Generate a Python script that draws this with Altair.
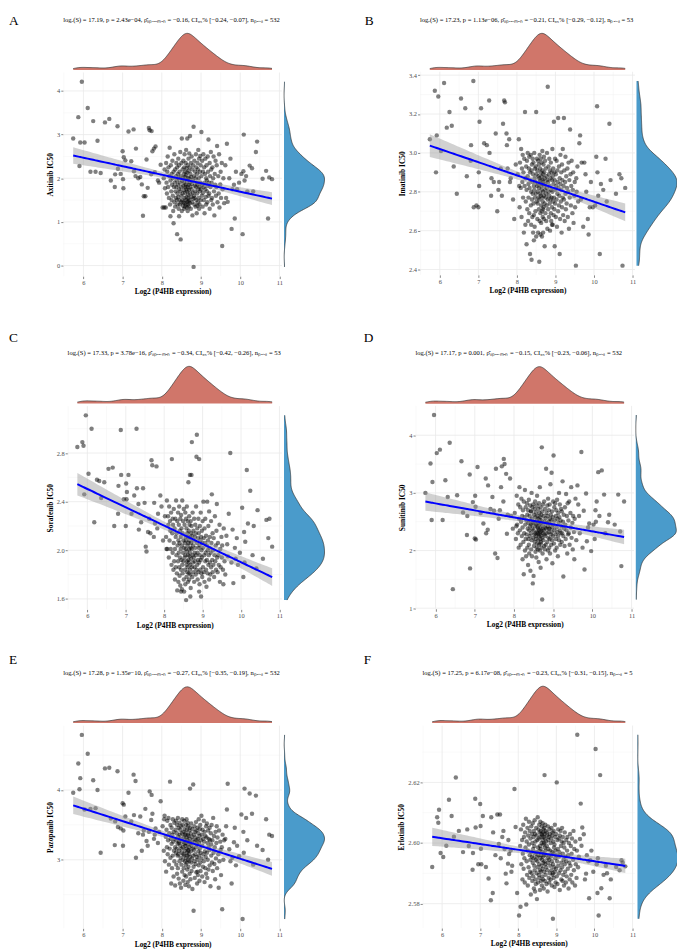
import altair as alt
import pandas as pd

# ---------------- data (shared P4HB expression, per-drug IC50) ----------------
x_left = [5.74, 5.87, 5.92, 5.96, 6.03, 6.11, 6.25, 6.31, 6.36, 6.44,
          6.55, 6.66, 6.80, 6.81, 6.87, 6.88, 7.00, 7.01, 7.02, 7.03,
          7.07, 7.15, 7.22, 7.28, 7.29, 7.33, 7.34, 7.45, 7.49, 7.52,
          7.54, 7.58, 7.61, 7.67, 7.69, 7.73, 7.74, 7.76, 7.80, 7.82,
          7.84, 7.90, 7.97, 7.93, 7.64, 7.40, 6.95, 6.70, 6.18, 5.90]
x_dense = [8.02, 8.05, 8.07, 8.08, 8.10, 8.11, 8.12, 8.13, 8.14, 8.15,
           8.16, 8.17, 8.18, 8.19, 8.20, 8.21, 8.22, 8.22, 8.23, 8.24,
           8.25, 8.25, 8.26, 8.27, 8.28, 8.28, 8.29, 8.30, 8.30, 8.31,
           8.32, 8.32, 8.33, 8.34, 8.34, 8.35, 8.36, 8.36, 8.37, 8.37,
           8.38, 8.38, 8.39, 8.39, 8.40, 8.40, 8.41, 8.41, 8.42, 8.42,
           8.43, 8.43, 8.44, 8.44, 8.45, 8.45, 8.46, 8.46, 8.47, 8.47,
           8.48, 8.48, 8.49, 8.49, 8.50, 8.50, 8.51, 8.51, 8.52, 8.52,
           8.53, 8.53, 8.54, 8.54, 8.55, 8.55, 8.55, 8.56, 8.56, 8.57,
           8.57, 8.57, 8.58, 8.58, 8.58, 8.59, 8.59, 8.59, 8.60, 8.60,
           8.61, 8.61, 8.61, 8.62, 8.62, 8.62, 8.63, 8.63, 8.63, 8.64,
           8.64, 8.64, 8.65, 8.65, 8.65, 8.66, 8.66, 8.66, 8.67, 8.67,
           8.67, 8.68, 8.68, 8.68, 8.69, 8.69, 8.69, 8.70, 8.70, 8.70,
           8.71, 8.71, 8.72, 8.72, 8.72, 8.73, 8.73, 8.74, 8.74, 8.75,
           8.75, 8.76, 8.76, 8.77, 8.77, 8.78, 8.78, 8.79, 8.79, 8.80,
           8.80, 8.81, 8.81, 8.82, 8.82, 8.83, 8.83, 8.84, 8.84, 8.85,
           8.85, 8.86, 8.86, 8.87, 8.87, 8.88, 8.88, 8.89, 8.89, 8.90,
           8.90, 8.91, 8.91, 8.92, 8.92, 8.93, 8.93, 8.94, 8.94, 8.95,
           8.95, 8.96, 8.96, 8.97, 8.97, 8.98, 8.98, 8.99, 8.99, 9.00,
           9.01, 9.01, 9.02, 9.03, 9.03, 9.04, 9.05, 9.05, 9.06, 9.07,
           9.07, 9.08, 9.09, 9.09, 9.10, 9.11, 9.11, 9.12, 9.13, 9.13,
           9.14, 9.15, 9.15, 9.16, 9.17, 9.17, 9.18, 9.19, 9.19, 9.20,
           9.21, 9.22, 9.22, 9.23, 9.24, 9.25, 9.26, 9.26, 9.27, 9.28,
           9.29, 9.30, 9.31, 9.32, 9.33, 9.34, 9.35, 9.36, 9.37, 9.38,
           9.39, 9.40, 9.41, 9.42, 9.44, 9.45, 9.46, 9.47, 9.49, 9.50,
           9.51, 9.53, 9.54, 9.55, 9.57, 9.59, 8.06, 8.44, 8.68, 8.91]
x_right = [9.62, 9.66, 9.68, 9.72, 9.78, 9.80, 9.84, 9.86, 9.89, 9.92,
           9.97, 10.03, 10.06, 10.08, 10.09, 10.11, 10.15, 10.18, 10.24, 10.30,
           10.33, 10.40, 10.43, 10.57, 10.66, 10.71, 10.74, 10.81, 9.64, 9.75]
X = x_left + x_dense + x_right

axitinib = [2.91, 3.40, 2.82, 4.21, 2.82, 3.61, 3.31, 2.15, 2.86, 2.12,
            3.28, 3.36, 1.80, 2.09, 3.19, 2.22, 2.62, 1.98, 1.77, 2.48,
            2.41, 3.07, 2.39, 3.12, 2.16, 2.05, 2.68, 2.03, 1.86, 1.14,
            1.59, 1.59, 2.43, 3.15, 3.10, 2.09, 3.08, 2.62, 2.68, 2.14,
            2.73, 1.95, 2.31, 1.90, 1.78, 2.00, 2.10, 1.95, 2.15, 2.28,
            1.33, 2.00, 2.20, 1.77, 1.33, 2.35, 1.90, 1.65, 2.15, 2.50,
            1.80, 2.25, 1.55, 2.05, 2.70, 1.40, 1.13, 1.95, 2.30, 1.70,
            2.10, 1.50, 1.85, 2.40, 1.60, 2.00, 1.25, 0.97, 2.15, 1.80,
            1.45, 2.55, 1.90, 1.35, 2.20, 1.70, 2.05, 1.55, 2.35, 1.80,
            1.50, 1.95, 0.72, 2.25, 1.65, 1.40, 2.10, 1.85, 2.45, 1.57,
            1.30, 2.00, 1.75, 2.30, 1.50, 2.15, 1.40, 1.90, 2.60, 1.70,
            0.60, 2.05, 1.45, 1.80, 2.35, 1.60, 2.91, 1.25, 1.95, 1.50,
            2.20, 1.65, 1.37, 2.00, 1.83, 2.40, 1.45, 1.73, 2.10, 1.30,
            1.90, 2.25, 1.55, 2.55, 1.43, 2.03, 1.67, 1.35, 2.15, 1.80,
            2.35, 1.50, 1.85, 2.07, 1.40, 2.65, 1.75, 1.57, 2.23, 1.33,
            1.95, 1.70, 2.91, 1.47, 2.13, 1.80, 1.25, 2.30, 1.63, 2.00,
            1.40, 2.45, 1.85, 1.55, 2.17, 1.73, 1.35, 2.00, 2.57, 1.50,
            1.90, 2.25, 2.97, 1.65, 1.43, 2.10, 1.80, 1.30, 2.35, 1.57,
            2.03, 1.75, 2.50, 1.45, 1.87, 2.20, 1.15, 1.67, 1.95, 1.53,
            2.30, 3.18, -0.03, 1.60, 2.05, 1.40, 2.40, 1.83, 1.55, 2.15,
            1.70, 2.00, 1.35, 2.55, 1.80, 1.50, 2.25, 1.90, 1.20, 2.10,
            1.65, 2.35, 1.85, 1.45, 2.20, 1.75, 2.65, 1.55, 2.00, 1.30,
            2.45, 1.80, 1.40, 2.15, 1.70, 2.51, 1.90, 1.50, 2.30, 1.75,
            2.05, 3.06, 1.60, 1.85, 2.40, 1.35, 2.15, 1.67, 2.55, 1.80,
            1.50, 2.25, 1.90, 1.20, 2.10, 1.75, 2.45, 1.57, 2.00, 1.40,
            2.30, 1.70, 1.95, 1.45, 2.50, 1.83, 2.15, 2.89, 1.60, 1.90,
            1.65, 2.35, 1.30, 2.05, 1.80, 2.60, 1.50, 2.20, 1.90, 1.55,
            2.25, 1.40, 2.00, 2.50, 1.70, 1.15, 2.10, 1.85, 2.40, 1.60,
            1.80, 2.30, 2.74, 1.45, 2.05, 1.65, 2.55, 1.33, 1.86, 2.15,
            1.55, 2.35, 0.45, 1.75, 2.00, 1.43, 1.33, 1.13, 1.47, 1.37,
            2.30, 2.79, 1.46, 2.00, 0.84, 1.75, 1.85, 1.08, 2.15, 1.75,
            1.90, 2.10, 0.72, 2.16, 3.00, 1.95, 2.05, 1.70, 2.29, 2.23,
            1.70, 2.60, 2.84, 1.99, 2.17, 1.08, 2.02, 1.98, 1.55, 2.45]

imatinib = [3.07, 3.32, 3.09, 3.29, 3.01, 3.36, 3.21, 3.14, 2.93, 2.79,
            3.28, 3.23, 2.96, 3.04, 3.37, 2.72, 2.72, 2.90, 2.83, 3.16,
            3.23, 3.05, 3.04, 3.27, 3.00, 2.78, 2.87, 3.10, 2.70, 2.81,
            2.85, 2.92, 2.78, 3.27, 3.26, 3.10, 3.04, 2.92, 3.07, 2.85,
            2.87, 2.76, 2.94, 2.66, 3.15, 2.85, 2.73, 2.88, 3.13, 2.90,
            2.89, 3.07, 2.72, 2.95, 2.82, 3.02, 2.67, 2.92, 2.85, 2.99,
            2.77, 2.90, 2.59, 2.97, 2.83, 3.21, 2.63, 2.87, 2.75, 2.93,
            2.81, 2.53, 2.96, 2.71, 2.88, 3.00, 2.65, 2.84, 2.77, 2.92,
            2.69, 2.98, 2.82, 2.90, 2.48, 2.86, 2.73, 2.99, 2.63, 2.80,
            2.91, 2.45, 2.76, 2.94, 2.67, 2.85, 2.97, 2.79, 2.59, 2.89,
            2.74, 2.95, 2.83, 2.68, 3.00, 2.81, 2.87, 2.62, 2.92, 2.77,
            2.85, 2.70, 2.93, 2.79, 3.21, 2.57, 2.89, 2.75, 2.97, 2.83,
            2.66, 2.91, 2.80, 2.74, 2.96, 2.84, 2.59, 2.88, 2.77, 2.71,
            2.94, 2.82, 2.44, 2.87, 2.76, 2.99, 2.65, 2.85, 2.79, 2.92,
            2.69, 2.86, 2.58, 2.90, 2.78, 2.97, 2.73, 2.83, 2.64, 2.88,
            2.81, 2.95, 2.70, 2.84, 2.57, 2.91, 2.77, 3.01, 2.67, 2.86,
            2.75, 2.89, 2.80, 2.59, 2.94, 2.72, 2.85, 2.78, 2.98, 2.66,
            2.83, 2.90, 2.74, 2.52, 2.87, 2.81, 2.96, 2.69, 2.84, 2.77,
            2.92, 2.65, 2.79, 2.88, 2.73, 3.00, 2.82, 2.61, 2.86, 2.76,
            3.34, 2.85, 2.71, 2.93, 2.80, 2.67, 2.89, 2.78, 2.97, 2.74,
            2.83, 2.60, 2.91, 2.76, 2.87, 2.69, 2.95, 2.81, 2.65, 2.90,
            2.77, 2.86, 2.72, 3.02, 2.80, 2.63, 2.88, 2.75, 2.92, 2.68,
            2.84, 3.16, 2.77, 2.90, 2.71, 2.52, 2.86, 2.97, 2.74, 2.81,
            2.89, 2.67, 2.83, 2.96, 2.76, 2.62, 2.91, 2.79, 2.85, 2.70,
            3.18, 2.82, 2.73, 2.93, 2.78, 2.48, 2.87, 2.66, 2.84, 2.99,
            2.75, 2.90, 2.81, 2.59, 2.94, 2.72, 2.86, 2.77, 3.02, 2.68,
            2.83, 3.18, 2.76, 2.91, 2.65, 2.85, 2.79, 2.98, 2.71, 2.88,
            2.74, 2.82, 2.92, 2.67, 2.80, 2.95, 2.61, 2.86, 2.77, 3.12,
            2.89, 2.73, 2.83, 2.96, 2.69, 2.81, 2.90, 2.64, 2.78, 2.85,
            2.72, 2.42, 2.87, 2.80, 2.93, 2.75, 2.83, 2.55, 2.71, 2.63,
            3.05, 2.76, 2.95, 2.62, 2.89, 2.80, 2.66, 2.58, 2.72, 2.85,
            2.72, 2.73, 2.98, 3.24, 2.90, 2.78, 2.48, 2.84, 2.81, 2.97,
            2.75, 3.15, 2.86, 2.79, 2.89, 2.87, 2.42, 2.82, 3.09, 2.95]

sorafenib = [2.85, 2.89, 2.46, 3.11, 2.63, 3.00, 2.58, 2.57, 2.43, 2.56,
             2.67, 2.68, 2.30, 2.53, 2.99, 2.62, 2.20, 2.55, 2.42, 2.48,
             2.62, 2.30, 2.45, 3.00, 2.51, 2.38, 2.17, 2.51, 2.39, 2.03,
             1.99, 2.15, 2.26, 2.74, 2.70, 2.11, 2.39, 2.22, 2.69, 2.18,
             2.30, 2.45, 2.08, 2.36, 2.14, 2.23, 2.42, 2.20, 2.23, 2.86,
             2.28, 2.11, 2.41, 2.01, 2.28, 2.21, 1.94, 2.36, 2.08, 2.24,
             2.16, 2.01, 2.31, 1.88, 2.75, 2.14, 2.26, 1.98, 2.21, 1.84,
             2.06, 2.34, 1.91, 2.18, 2.01, 1.76, 2.26, 2.11, 1.86, 2.41,
             1.96, 2.14, 1.81, 2.24, 1.67, 2.04, 2.31, 1.91, 2.08, 1.74,
             2.21, 1.98, 1.86, 2.36, 2.06, 1.79, 2.16, 1.94, 2.26, 1.71,
             2.01, 2.11, 1.84, 2.29, 1.92, 2.18, 1.68, 2.04, 2.41, 1.88,
             2.14, 1.81, 1.98, 2.24, 1.91, 2.08, 2.34, 1.76, 2.02, 1.66,
             2.21, 1.94, 2.06, 1.84, 2.31, 1.96, 1.72, 2.11, 2.01, 2.26,
             1.59, 2.08, 1.88, 2.18, 1.78, 2.36, 1.99, 1.91, 2.14, 1.82,
             2.04, 2.24, 1.86, 1.96, 1.74, 2.11, 2.56, 1.92, 2.06, 1.81,
             2.16, 1.90, 2.01, 2.28, 1.76, 2.08, 1.95, 2.21, 1.84, 2.62,
             1.98, 1.88, 2.11, 1.80, 2.24, 2.02, 1.69, 2.14, 1.93, 2.06,
             2.20, 2.62, 1.86, 2.89, 2.01, 1.78, 2.12, 1.96, 2.31, 1.90,
             2.04, 1.82, 2.16, 1.94, 2.08, 1.74, 2.26, 1.98, 1.86, 2.11,
             1.91, 2.21, 2.02, 1.80, 2.14, 1.96, 2.36, 1.84, 2.77, 2.95,
             2.06, 1.88, 2.18, 1.98, 1.76, 2.10, 1.92, 2.26, 1.82, 2.02,
             2.14, 2.75, 1.90, 2.04, 1.72, 2.20, 1.96, 1.84, 2.08, 2.31,
             1.92, 1.62, 2.11, 2.00, 1.81, 2.16, 1.94, 2.06, 1.78, 2.24,
             2.02, 1.86, 2.40, 2.10, 1.82, 1.96, 2.18, 1.74, 2.06, 1.91,
             2.26, 1.98, 1.84, 2.12, 1.70, 2.04, 1.92, 2.40, 2.00, 1.81,
             2.08, 1.88, 2.20, 1.96, 1.76, 2.32, 2.02, 1.90, 2.11, 1.80,
             1.98, 2.24, 1.86, 2.06, 2.46, 1.92, 1.82, 2.14, 2.00, 1.88,
             2.10, 1.78, 1.96, 2.28, 1.91, 2.04, 1.84, 2.16, 2.38, 1.94,
             1.82, 2.06, 1.96, 1.88, 2.21, 1.74, 2.01, 1.86, 2.11, 1.94,
             2.04, 1.84, 1.72, 2.18, 1.91, 1.80, 2.01, 1.66, 1.62, 1.66,
             2.12, 1.95, 2.30, 2.80, 2.17, 1.73, 2.02, 1.93, 2.10, 1.88,
             1.98, 2.35, 1.78, 2.15, 1.90, 2.07, 2.66, 2.22, 2.49, 1.96,
             2.20, 1.85, 2.33, 1.93, 2.25, 2.10, 2.26, 2.03, 2.05, 1.90]

sunitinib = [3.00, 3.51, 3.19, 4.35, 3.69, 3.75, 3.22, 2.93, 3.87, 1.33,
             2.96, 3.55, 2.27, 2.60, 3.32, 1.69, 2.21, 2.95, 2.76, 2.19,
             3.45, 2.65, 2.47, 3.25, 2.30, 2.36, 3.13, 2.93, 2.69, 1.95,
             3.42, 1.87, 2.55, 3.10, 3.46, 2.85, 3.59, 3.50, 3.33, 2.29,
             2.62, 3.25, 2.38, 2.60, 2.70, 2.72, 2.84, 2.66, 2.53, 2.53,
             2.65, 2.20, 2.95, 2.45, 2.30, 2.80, 2.05, 2.55, 3.10, 2.35,
             2.75, 2.10, 2.50, 2.90, 2.25, 2.60, 1.85, 2.40, 2.70, 2.15,
             1.59, 2.85, 2.30, 2.58, 2.00, 3.05, 2.45, 2.20, 2.75, 1.90,
             2.52, 2.28, 2.82, 2.05, 2.62, 2.38, 1.75, 2.70, 2.20, 2.48,
             2.10, 2.88, 2.35, 1.95, 2.60, 2.25, 2.78, 2.42, 1.65, 2.52,
             2.30, 2.68, 2.02, 2.45, 3.00, 2.18, 2.55, 1.90, 2.38, 2.75,
             1.43, 2.48, 2.22, 2.80, 1.56, 2.35, 2.62, 2.08, 2.50, 2.28,
             2.72, 2.15, 2.42, 2.85, 1.98, 2.58, 2.30, 2.20, 2.66, 1.88,
             2.45, 2.25, 2.78, 2.05, 2.52, 2.32, 2.95, 2.12, 2.40, 2.60,
             2.02, 2.48, 2.30, 2.72, 2.18, 2.38, 1.80, 2.55, 2.25, 2.82,
             2.35, 2.10, 2.65, 2.28, 2.45, 3.10, 2.00, 2.52, 2.32, 2.20,
             2.58, 2.40, 1.70, 2.75, 2.26, 2.48, 2.15, 2.62, 2.34, 2.05,
             3.79, 2.52, 2.22, 1.15, 2.68, 2.38, 1.95, 2.80, 2.30, 2.45,
             2.18, 2.60, 2.35, 2.08, 2.85, 2.28, 2.50, 2.02, 2.72, 2.40,
             2.25, 2.56, 2.10, 3.42, 2.38, 2.65, 1.85, 2.48, 2.30, 2.78,
             2.15, 2.42, 2.60, 2.00, 2.90, 2.32, 2.22, 2.70, 2.50, 2.05,
             2.38, 2.80, 2.20, 2.55, 1.95, 2.45, 3.15, 2.28, 2.62, 2.10,
             2.52, 2.32, 3.35, 2.18, 2.68, 2.40, 1.78, 2.58, 2.25, 2.85,
             3.65, 2.45, 2.12, 2.75, 2.35, 2.52, 2.00, 2.82, 2.28, 2.60,
             2.20, 2.70, 2.40, 2.05, 2.88, 2.32, 2.55, 1.90, 2.65, 2.25,
             2.48, 3.00, 2.18, 2.58, 2.35, 2.80, 2.10, 2.52, 2.30, 2.72,
             2.42, 2.15, 2.68, 2.30, 3.20, 2.50, 1.55, 2.25, 2.62, 2.38,
             2.08, 2.75, 2.45, 2.20, 2.98, 2.35, 2.60, 1.95, 2.82, 2.28,
             2.52, 2.30, 2.85, 2.10, 2.65, 2.40, 3.10, 2.22, 2.48, 2.02,
             2.60, 2.32, 1.85, 2.55, 2.90, 2.18, 2.42, 2.68, 2.12, 2.38,
             3.13, 2.60, 2.30, 3.71, 2.69, 1.67, 2.99, 2.16, 2.40, 2.47,
             1.99, 2.45, 2.20, 2.70, 2.50, 2.85, 3.36, 2.60, 3.39, 2.97,
             2.30, 2.49, 2.62, 2.45, 2.97, 2.33, 1.73, 2.85, 2.80, 2.05]

pazopanib = [3.96, 4.38, 4.17, 4.79, 3.72, 4.52, 4.14, 3.74, 4.00, 3.10,
             4.31, 4.32, 3.21, 3.55, 4.27, 3.47, 3.81, 3.20, 3.42, 3.79,
             3.62, 3.96, 3.55, 4.22, 3.64, 4.13, 3.03, 3.62, 3.13, 3.36,
             3.42, 3.73, 3.27, 3.40, 3.98, 3.57, 3.93, 3.66, 3.30, 3.36,
             3.45, 3.24, 3.84, 3.40, 3.20, 3.38, 3.45, 3.59, 3.73, 4.01,
             3.48, 3.13, 3.63, 2.98, 3.33, 2.83, 3.43, 3.18, 3.56, 3.08,
             3.28, 3.60, 2.93, 3.38, 3.16, 4.12, 3.50, 3.03, 3.30, 2.66,
             3.23, 3.46, 2.88, 3.36, 3.58, 3.06, 3.26, 2.76, 3.40, 3.13,
             3.53, 2.98, 3.30, 3.18, 2.63, 3.43, 3.10, 3.56, 2.93, 3.28,
             3.16, 3.38, 2.80, 3.50, 3.06, 3.23, 3.60, 2.88, 3.33, 3.08,
             3.46, 2.73, 3.26, 3.13, 3.53, 2.98, 3.36, 2.66, 3.20, 3.43,
             3.03, 3.30, 2.60, 3.48, 3.16, 2.93, 3.38, 3.10, 3.58, 2.83,
             3.26, 3.50, 3.00, 3.18, 2.70, 3.40, 3.08, 3.33, 2.88, 3.23,
             3.56, 3.06, 3.28, 2.78, 3.44, 3.13, 2.98, 3.36, 2.64, 3.20,
             3.38, 2.93, 3.24, 3.50, 3.03, 2.76, 3.32, 3.16, 3.58, 2.96,
             3.10, 3.43, 2.86, 3.28, 3.06, 3.53, 2.68, 3.22, 3.36, 3.00,
             3.48, 3.14, 2.90, 3.34, 3.08, 2.62, 3.26, 3.42, 2.98, 3.18,
             3.30, 2.80, 3.46, 4.02, 3.04, 3.24, 2.72, 3.38, 3.12, 2.96,
             3.52, 3.20, 2.84, 3.33, 3.02, 3.44, 2.58, 3.16, 3.28, 3.06,
             4.08, 2.90, 2.27, 3.36, 3.14, 3.48, 2.98, 3.26, 2.74, 3.40,
             3.08, 3.32, 2.94, 3.54, 3.18, 2.82, 3.42, 3.04, 3.28, 2.66,
             3.22, 3.46, 3.00, 3.30, 2.78, 3.38, 3.12, 3.58, 2.92, 3.24,
             3.06, 3.34, 2.70, 3.44, 3.16, 2.96, 3.50, 3.10, 2.84, 3.28,
             3.63, 3.02, 3.36, 2.76, 3.20, 3.43, 2.90, 3.30, 3.08, 3.56,
             2.98, 3.26, 2.68, 3.40, 3.12, 2.88, 3.34, 3.04, 3.48, 2.80,
             3.32, 3.10, 3.52, 2.74, 3.24, 3.00, 3.42, 3.18, 2.86, 3.30,
             3.14, 3.46, 2.92, 3.28, 2.62, 3.38, 3.06, 3.22, 3.50, 2.96,
             3.28, 2.84, 3.60, 3.10, 3.34, 2.94, 3.18, 2.72, 3.40, 3.02,
             3.24, 3.48, 2.88, 3.32, 3.08, 2.60, 3.42, 2.98, 3.26, 3.14,
             2.78, 3.18, 2.29, 3.36, 3.00, 3.28, 3.58, 3.24, 3.13, 2.83,
             3.30, 3.72, 4.09, 3.15, 2.66, 3.03, 3.25, 3.46, 2.92, 3.20,
             3.05, 3.65, 2.15, 3.40, 3.10, 4.02, 3.60, 3.28, 3.95, 3.66,
             2.93, 3.92, 3.20, 3.14, 3.58, 3.00, 3.36, 3.34, 3.48, 2.98]

erlotinib = [2.5921, 2.6085, 2.6110, 2.5967, 2.5954, 2.5991, 2.6089, 2.6021, 2.6216, 2.6040,
             2.5970, 2.6045, 2.5912, 2.5967, 2.6146, 2.6051, 2.6129, 2.6056, 2.5981, 2.5930,
             2.6089, 2.5921, 2.5883, 2.5811, 2.6085, 2.5835, 2.6035, 2.6094, 2.5997, 2.6094,
             2.5950, 2.6020, 2.6040, 2.5899, 2.5867, 2.5932, 2.6010, 2.5964, 2.5975, 2.5905,
             2.5925, 2.6178, 2.5835, 2.6053, 2.5980, 2.5960, 2.5930, 2.5990, 2.6143, 2.6067,
             2.5761, 2.5990, 2.6045, 2.5930, 2.6010, 2.5880, 2.5965, 2.6060, 2.5915, 2.6020,
             2.5950, 2.5870, 2.6035, 2.5985, 2.6080, 2.5797, 2.5940, 2.6005, 2.5895, 2.6050,
             2.5975, 2.5860, 2.6025, 2.5920, 2.5995, 2.6070, 2.5885, 2.5960, 2.6040, 2.5905,
             2.6015, 2.5945, 2.5830, 2.6055, 2.5970, 2.5900, 2.6030, 2.5955, 2.5875, 2.6000,
             2.5935, 2.6065, 2.5980, 2.5890, 2.6020, 2.5950, 2.5850, 2.6040, 2.5925, 2.5990,
             2.6075, 2.5910, 2.5965, 2.6030, 2.5880, 2.6005, 2.5945, 2.5865, 2.6050, 2.5970,
             2.5900, 2.6025, 2.5955, 2.5815, 2.6010, 2.5940, 2.6085, 2.5920, 2.5985, 2.5870,
             2.6045, 2.5960, 2.5895, 2.6015, 2.5930, 2.6060, 2.5885, 2.5975, 2.6035, 2.5910,
             2.5990, 2.5845, 2.6020, 2.5950, 2.6070, 2.5905, 2.5980, 2.6040, 2.5875, 2.5960,
             2.6030, 2.5925, 2.6000, 2.5860, 2.6055, 2.5945, 2.6025, 2.5890, 2.5970, 2.6010,
             2.5915, 2.6065, 2.5955, 2.6035, 2.5880, 2.5995, 2.6045, 2.5935, 2.5850, 2.6020,
             2.5965, 2.6000, 2.5905, 2.6050, 2.6224, 2.5940, 2.6030, 2.5875, 2.5985, 2.6015,
             2.5930, 2.6060, 2.5895, 2.5975, 2.6040, 2.5920, 2.6005, 2.5865, 2.5960, 2.6035,
             2.5990, 2.5910, 2.6025, 2.5950, 2.5840, 2.6055, 2.5935, 2.5980, 2.6010, 2.5885,
             2.6020, 2.5945, 2.5870, 2.6045, 2.5960, 2.5900, 2.6030, 2.5975, 2.5925, 2.6000,
             2.5880, 2.6015, 2.5955, 2.5910, 2.6050, 2.5940, 2.5860, 2.6025, 2.5970, 2.5895,
             2.6035, 2.5930, 2.5750, 2.6005, 2.5965, 2.5885, 2.6040, 2.5920, 2.5985, 2.5855,
             2.5995, 2.6060, 2.5905, 2.5950, 2.6020, 2.5870, 2.5975, 2.6030, 2.5915, 2.5960,
             2.5890, 2.6200, 2.5940, 2.6010, 2.5865, 2.5980, 2.6045, 2.5925, 2.5955, 2.6015,
             2.5900, 2.5970, 2.6025, 2.5845, 2.5960, 2.6040, 2.5910, 2.5990, 2.5880, 2.5935,
             2.6005, 2.5920, 2.6050, 2.5875, 2.5965, 2.6020, 2.5895, 2.5945, 2.6000, 2.5860,
             2.5985, 2.5930, 2.6035, 2.5905, 2.5955, 2.5870, 2.6010, 2.5940, 2.5890, 2.5975,
             2.6020, 2.5915, 2.5960, 2.5850, 2.6000, 2.5935, 2.5880, 2.6030, 2.5925, 2.5990,
             2.5895, 2.5965, 2.6015, 2.5870, 2.5945, 2.6040, 2.5910, 2.5980, 2.5860, 2.6005,
             2.5930, 2.5885, 2.5975, 2.6357, 2.5920, 2.5955, 2.5790, 2.5840, 2.5960, 2.5900,
             2.6013, 2.5991, 2.6051, 2.6029, 2.5899, 2.5960, 2.5940, 2.5818, 2.5943, 2.5975,
             2.5905, 2.6310, 2.5930, 2.5835, 2.5950, 2.5761, 2.6224, 2.5851, 2.5895, 2.5925,
             2.5900, 2.5818, 2.5880, 2.5921, 2.5910, 2.5943, 2.5935, 2.5923, 2.6130, 2.5880]

stats = {
    "A": "logₑ(S) = 17.19, p = 2.43e−04, ρ̂ₛₚₑₐᵣₘₐₙ = −0.16, CI₉₅% [−0.24, −0.07], nₚₐᵢᵣₛ = 532",
    "B": "logₑ(S) = 17.23, p = 1.13e−06, ρ̂ₛₚₑₐᵣₘₐₙ = −0.21, CI₉₅% [−0.29, −0.12], nₚₐᵢᵣₛ = 532",
    "C": "logₑ(S) = 17.33, p = 3.78e−16, ρ̂ₛₚₑₐᵣₘₐₙ = −0.34, CI₉₅% [−0.42, −0.26], nₚₐᵢᵣₛ = 532",
    "D": "logₑ(S) = 17.17, p = 0.001, ρ̂ₛₚₑₐᵣₘₐₙ = −0.15, CI₉₅% [−0.23, −0.06], nₚₐᵢᵣₛ = 532",
    "E": "logₑ(S) = 17.28, p = 1.35e−10, ρ̂ₛₚₑₐᵣₘₐₙ = −0.27, CI₉₅% [−0.35, −0.19], nₚₐᵢᵣₛ = 532",
    "F": "logₑ(S) = 17.25, p = 6.17e−08, ρ̂ₛₚₑₐᵣₘₐₙ = −0.23, CI₉₅% [−0.31, −0.15], nₚₐᵢᵣₛ = 532",
}
x_major = [6, 7, 8, 9, 10, 11]
x_minor = [5.5, 6.5, 7.5, 8.5, 9.5, 10.5]

# ---------------- styling / layout ----------------
SERIF = "Liberation Serif"
RED = "#D0766A"
BLUE = "#4A9BCB"
CX = [8, 340]          # page x of each column cell
CY = [8, 318, 633]     # page y of each row cell
CW = [332, 345]
RH = [310, 315, 316]

panels = [
    dict(col=0, row=0, y=axitinib, drug="Axitinib", L="A", xt=(6, 84.3, 11, 282.7), yt=(0, 261.0, 4, 84.3),
         ymaj=[0, 1, 2, 3, 4], ymin=[0.5, 1.5, 2.5, 3.5], fmt="d", top=(63, 26), rd=(287.3, 328.3),
         sty=13, lx=9, ly=17.5, bwy=0.13),
    dict(col=1, row=0, y=imatinib, drug="Imatinib", L="B", xt=(6, 445, 11, 640), yt=(2.4, 265, 3.4, 68.3),
         ymaj=[2.4, 2.6, 2.8, 3.0, 3.2, 3.4], ymin=[2.5, 2.7, 2.9, 3.1, 3.3], fmt=".1f", top=(63, 26), rd=(644, 685),
         sty=13, lx=369, ly=17.5, bwy=0.037),
    dict(col=0, row=1, y=sorafenib, drug="Sorafenib", L="C", xt=(6, 88.3, 11, 282.7), yt=(1.6, 598.3, 2.8, 450.7),
         ymaj=[1.6, 2.0, 2.4, 2.8], ymin=[1.8, 2.2, 2.6, 3.0], fmt=".1f", top=(400.5, 363), rd=(287.3, 328.3),
         sty=349, lx=9, ly=338.5, bwy=0.055),
    dict(col=1, row=1, y=sunitinib, drug="Sunitinib", L="D", xt=(6, 440.7, 11, 639), yt=(1, 607.7, 4, 432.7),
         ymaj=[1, 2, 3, 4], ymin=[1.5, 2.5, 3.5], fmt="d", top=(400.7, 363.3), rd=(643.3, 684.3),
         sty=349, lx=368, ly=338.5, bwy=0.085),
    dict(col=0, row=2, y=pazopanib, drug="Pazopanib", L="E", xt=(6, 84.3, 11, 282.7), yt=(3, 862.3, 4, 791.7),
         ymaj=[3, 4], ymin=[2.5, 3.5, 4.5], fmt="d", top=(724, 687.3), rd=(287.3, 328.3),
         sty=673, lx=9, ly=664.5, bwy=0.07),
    dict(col=1, row=2, y=erlotinib, drug="Erlotinib", L="F", xt=(6, 447.3, 11, 640), yt=(2.58, 906.7, 2.62, 784),
         ymaj=[2.58, 2.60, 2.62], ymin=[2.59, 2.61, 2.63], fmt=".2f", top=(724, 686.7), rd=(645, 686),
         sty=673, lx=368, ly=664.5, bwy=0.0028),
]


def lin(t, v):
    t1, p1, t2, p2 = t
    return p1 + (v - t1) * (p2 - p1) / (t2 - t1)


def make_panel(p):
    cx, cy = CX[p["col"]], CY[p["row"]]
    W, H = CW[p["col"]], RH[p["row"]]
    ys = p["y"]
    df = pd.DataFrame({"x": X, "y": ys})
    xlo, xhi = min(X), max(X)
    ylo, yhi = min(ys), max(ys)
    dx = [xlo - 0.05 * (xhi - xlo), xhi + 0.05 * (xhi - xlo)]
    dy = [ylo - 0.05 * (yhi - ylo), yhi + 0.05 * (yhi - ylo)]
    rx = [lin(p["xt"], dx[0]) - cx, lin(p["xt"], dx[1]) - cx]
    ry = [lin(p["yt"], dy[0]) - cy, lin(p["yt"], dy[1]) - cy]
    sx = alt.Scale(domain=dx, range=rx, nice=False, zero=False)
    sy = alt.Scale(domain=dy, range=ry, nice=False, zero=False)

    xmaj = pd.DataFrame({"v": x_major})
    xmin = pd.DataFrame({"v": [v for v in x_minor if dx[0] <= v <= dx[1]]})
    ymaj = pd.DataFrame({"v": p["ymaj"]})
    ymin = pd.DataFrame({"v": [v for v in p["ymin"] if dy[0] <= v <= dy[1]]})

    vmin = alt.Chart(xmin).mark_rule(color="#F3F3F3", strokeWidth=0.5).encode(
        x=alt.X("v:Q", scale=sx, axis=None),
        y=alt.Y(datum=dy[0], type="quantitative", scale=sy, axis=None), y2=alt.Y2(datum=dy[1]))
    hmin = alt.Chart(ymin).mark_rule(color="#F3F3F3", strokeWidth=0.5).encode(
        y=alt.Y("v:Q", scale=sy, axis=None),
        x=alt.X(datum=dx[0], type="quantitative", scale=sx, axis=None), x2=alt.X2(datum=dx[1]))
    vmaj = alt.Chart(xmaj).mark_rule(color="#E9E9E9", strokeWidth=0.8).encode(
        x=alt.X("v:Q", scale=sx, axis=alt.Axis(orient="bottom", offset=ry[0] - H, values=x_major, format="d",
                                                 title="Log2 (P4HB expression)")),
        y=alt.Y(datum=dy[0], type="quantitative", scale=sy, axis=None), y2=alt.Y2(datum=dy[1]))
    hmaj = alt.Chart(ymaj).mark_rule(color="#E9E9E9", strokeWidth=0.8).encode(
        y=alt.Y("v:Q", scale=sy, axis=alt.Axis(orient="left", offset=-rx[0], values=p["ymaj"], format=p["fmt"],
                                                 title=p["drug"] + " IC50")),
        x=alt.X(datum=dx[0], type="quantitative", scale=sx, axis=None), x2=alt.X2(datum=dx[1]))

    pts = alt.Chart(df).mark_circle(size=20, color="black", opacity=0.5).encode(
        x=alt.X("x:Q", scale=sx, axis=None), y=alt.Y("y:Q", scale=sy, axis=None))

    reg = (alt.Chart(df)
           .transform_joinaggregate(mx="mean(x)", my="mean(y)", n="count()")
           .transform_calculate(ddx="datum.x - datum.mx")
           .transform_calculate(ddy="datum.y - datum.my")
           .transform_calculate(dxy="datum.ddx * datum.ddy")
           .transform_calculate(dxx="datum.ddx * datum.ddx")
           .transform_joinaggregate(sxy="sum(dxy)", sxx="sum(dxx)")
           .transform_calculate(fit="datum.my + datum.sxy / datum.sxx * datum.ddx")
           .transform_calculate(r2="pow(datum.y - datum.fit, 2)")
           .transform_joinaggregate(sse="sum(r2)")
           .transform_calculate(se="sqrt(datum.sse / (datum.n - 2)) * sqrt(1 / datum.n + datum.dxx / datum.sxx)")
           .transform_calculate(lo="datum.fit - 1.965 * datum.se")
           .transform_calculate(hi="datum.fit + 1.965 * datum.se"))
    band = reg.mark_area(color="#999999", opacity=0.45).encode(
        x=alt.X("x:Q", scale=sx, axis=None), y=alt.Y("lo:Q", scale=sy, axis=None), y2="hi:Q")
    line = reg.mark_line(color="#0000FF", strokeWidth=2).encode(
        x=alt.X("x:Q", scale=sx, axis=None), y=alt.Y("fit:Q", scale=sy, axis=None))

    tscale = alt.Scale(domain=[0, 1], range=[p["top"][0] - cy, p["top"][1] - cy], nice=False, zero=False)
    tden = (alt.Chart(df)
            .transform_density("x", as_=["xv", "dens"], bandwidth=0.15, extent=[xlo, xhi], steps=200)
            .transform_joinaggregate(mxd="max(dens)")
            .transform_calculate(nd="datum.dens / datum.mxd"))
    t_area = tden.mark_area(color=RED).encode(
        x=alt.X("xv:Q", scale=sx, axis=None), y=alt.Y("nd:Q", scale=tscale, axis=None))
    t_line = tden.mark_line(color="#333333", strokeWidth=0.7).encode(
        x=alt.X("xv:Q", scale=sx, axis=None), y=alt.Y("nd:Q", scale=tscale, axis=None))

    rscale = alt.Scale(domain=[0, 1], range=[p["rd"][0] - cx, p["rd"][1] - cx], nice=False, zero=False)
    rden = (alt.Chart(df)
            .transform_density("y", as_=["yv", "dens"], bandwidth=p["bwy"], extent=[ylo, yhi], steps=200)
            .transform_joinaggregate(mxd="max(dens)")
            .transform_calculate(nd="datum.dens / datum.mxd"))
    r_area = rden.mark_area(color=BLUE, orient="horizontal", clip=True).encode(
        y=alt.Y("yv:Q", scale=sy, axis=None), x=alt.X("nd:Q", scale=rscale, axis=None))
    r_line = rden.mark_line(color="#333333", strokeWidth=0.7, clip=True).encode(
        y=alt.Y("yv:Q", scale=sy, axis=None), x=alt.X("nd:Q", scale=rscale, axis=None),
        order=alt.Order("yv:Q"))

    stat = alt.Chart(pd.DataFrame({"t": [stats[p["L"]]]})).mark_text(
        align="left", baseline="middle", font=SERIF, fontSize=6.6, color="black",
        limit=rx[1] - rx[0], ellipsis="\u200b").encode(
        text="t:N", x=alt.value(rx[0]), y=alt.value(p["sty"] - cy))
    letter = alt.Chart(pd.DataFrame({"t": [p["L"]]})).mark_text(
        align="left", baseline="alphabetic", font=SERIF, fontSize=13.5, color="black").encode(
        text="t:N", x=alt.value(p["lx"] - cx), y=alt.value(p["ly"] - cy))

    return (alt.layer(vmin, hmin, vmaj, hmaj, pts, band, line, t_area, t_line, r_area, r_line, stat, letter)
            .resolve_scale(x="independent", y="independent")
            .properties(width=W, height=H))


cells = [make_panel(p) for p in panels]

chart = (alt.concat(*cells, columns=2, spacing=0, bounds="flush", align="each")
         .properties(padding=0, background="white")
         .configure_view(strokeWidth=0)
         .configure_axis(domain=False, grid=False, labelFont=SERIF, labelFontSize=6.5, labelColor="#4D4D4D",
                         tickColor="#333333", tickSize=2.5, tickWidth=0.6, labelPadding=1, labelFlush=False,
                         titleFont=SERIF, titleFontSize=7.5, titleFontWeight="bold", titleColor="black",
                         titlePadding=2))

chart.save("out.html", embed_options={"renderer": "svg", "actions": False})
